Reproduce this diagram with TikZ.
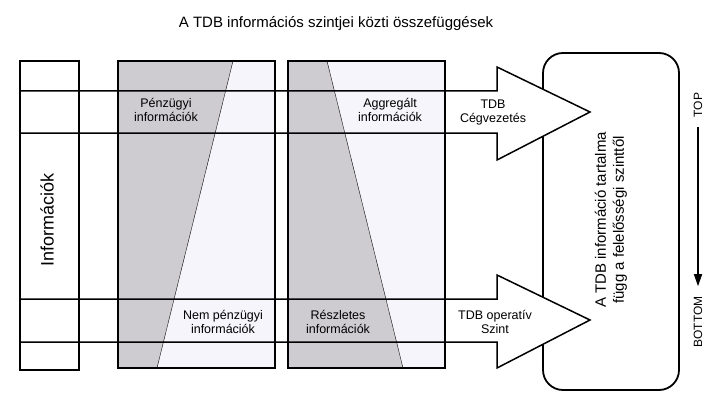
\documentclass[tikz,border=0pt]{standalone}
\usepackage{fontspec}
\setmainfont{Liberation Sans}
\usepackage{tikz}
\usetikzlibrary{arrows.meta}
\definecolor{cshade}{rgb}{0.81,0.80,0.82}
\definecolor{clight}{rgb}{0.97,0.96,0.99}
\tikzset{
  lbl/.style={align=center, font=\fontsize{12.5}{14}\selectfont, inner sep=0pt},
  frame/.style={line width=1.8pt},
  bar/.style={line width=1.5pt, line join=miter}
}

\begin{document}
\begin{tikzpicture}[x=1pt, y=-1pt]
        \useasboundingbox (0,0) rectangle (727,401);

        % first column: financial vs. non-financial
        \fill[cshade] (118,61) -- (233,61) -- (157,368) -- (118,368) -- cycle;
        \fill[clight] (233,61) -- (275,61) -- (275,368) -- (157,368) -- cycle;
        \draw[thin] (233,61) -- (157,368);
        \draw[frame] (118,61) rectangle (275,368);

        % second column: aggregated vs. detailed
        \fill[cshade] (288,61) -- (327,61) -- (403,368) -- (288,368) -- cycle;
        \fill[clight] (327,61) -- (445,61) -- (445,368) -- (403,368) -- cycle;
        \draw[thin] (327,61) -- (403,368);
        \draw[frame] (288,61) rectangle (445,368);

        \draw[frame] (20,61) rectangle (79,370);

        % right box
        \draw[frame, rounded corners=20pt] (543,53) rectangle (679,390);

        % level arrows
        \fill[white] (497,67) -- (590,112) -- (497,160) -- cycle;
        \draw[bar] (20,91) -- (497,91) -- (497,67) -- (590,112)
          -- (497,160) -- (497,133) -- (20,133);
        \fill[white] (497,275) -- (590,320) -- (497,368) -- cycle;
        \draw[bar] (20,299) -- (497,299) -- (497,275) -- (590,320)
          -- (497,368) -- (497,342) -- (20,342);

        \node[font=\fontsize{15}{17}\selectfont, anchor=base] (title) at (336,28)
          {A TDB információs szintjei közti összefüggések};

        \node[rotate=90, font=\fontsize{18}{20}\selectfont] (info) at (47,220)
          {Információk};

        \node[lbl] (penz) at (166,110) {Pénzügyi\\információk};
        \node[lbl] (aggr) at (390,110) {Aggregált\\információk};
        \node[lbl] (vez) at (493,112) {TDB\\Cégvezetés};
        \node[lbl] (nempenz) at (223,322) {Nem pénzügyi\\információk};
        \node[lbl] (reszl) at (338,322) {Részletes\\információk};
        \node[lbl] (oper) at (495,322) {TDB operatív\\Szint};

        \node[rotate=90, align=center, font=\fontsize{15}{18}\selectfont]
          (tart) at (611,220)
          {A TDB információ tartalma\\függ a felelősségi szinttől};

        \node[rotate=90, font=\fontsize{12}{14}\selectfont, inner xsep=10pt]
          (top) at (698,105) {TOP};
        \node[rotate=90, font=\fontsize{12}{14}\selectfont, inner xsep=10pt]
          (bottom) at (698,322) {BOTTOM};
        \draw[line width=1.4pt, -{Triangle[length=12pt, width=8pt]}]
          (top) -- (bottom);
      \end{tikzpicture}
\end{document}
